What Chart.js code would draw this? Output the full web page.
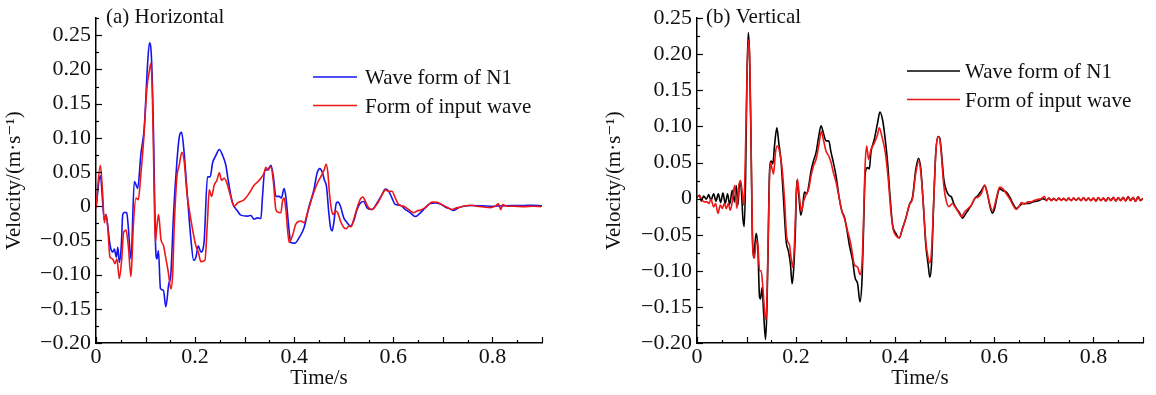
<!DOCTYPE html>
<html>
<head>
<meta charset="utf-8">
<script src="https://cdn.jsdelivr.net/npm/chart.js@4.4.1/dist/chart.umd.min.js"></script>
<style>
  html, body { margin: 0; padding: 0; background: #fff; }
  #wrap { position: relative; width: 1156px; height: 395px; }
  .pane { position: absolute; top: 0; width: 578px; height: 395px; }
</style>
</head>
<body>
<div id="wrap">
  <div class="pane" style="left:0"><canvas id="c1" width="578" height="395"></canvas></div>
  <div class="pane" style="left:578px"><canvas id="c2" width="578" height="395"></canvas></div>
</div>
<script>
// ---------------- DATA ----------------
// (a) Horizontal – wave form of N1 (time s, velocity m/s)
const hN1T = [0,0.0087,0.0168,0.020,0.024,0.027,0.030,0.034,0.037,0.041,0.044,0.047,0.051,0.054,0.058,0.062,0.065,0.0706,0.0773,0.081,0.084,0.0907,0.0974,0.104,0.108,0.112,0.116,0.120,0.123,0.126,0.130,0.136,0.141,0.1465,0.151,0.1566,0.163,0.168,0.1727,0.178,0.1835,0.1915,0.197,0.2016,0.2063,0.2117,0.218,0.225,0.2305,0.235,0.242,0.2487,0.2554,0.262,0.2668,0.2755,0.2856,0.292,0.306,0.3125,0.319,0.326,0.3327,0.336,0.3407,0.346,0.353,0.358,0.363,0.3696,0.374,0.3797,0.383,0.390,0.393,0.401,0.410,0.420,0.430,0.4396,0.4463,0.4517,0.4564,0.461,0.4651,0.4698,0.4732,0.4765,0.4799,0.4852,0.4886,0.4933,0.5,0.5067,0.5134,0.5201,0.5268,0.5336,0.5403,0.547,0.557,0.5671,0.5772,0.5839,0.5906,0.5973,0.604,0.6141,0.6242,0.6342,0.6443,0.6544,0.6644,0.6745,0.6846,0.6946,0.7047,0.7148,0.7215,0.7315,0.7416,0.76,0.78,0.80,0.82,0.84,0.86,0.88,0.90];
const hN1V = [-0.003,0.045,-0.02,-0.012,-0.03,-0.05,-0.0625,-0.067,-0.0625,-0.0745,-0.06,-0.082,-0.058,-0.012,-0.0087,-0.0096,-0.029,-0.077,0.036,0.031,0.026,0.077,0.115,0.207,0.239,0.216,0.11,-0.053,-0.077,-0.065,-0.12,-0.123,-0.147,-0.115,-0.099,-0.0096,0.0625,0.101,0.108,0.077,0.024,-0.048,-0.079,-0.0745,-0.058,-0.067,-0.053,0.043,0.043,0.0625,0.0745,0.083,0.0745,0.06,0.038,0.005,-0.007,-0.013,-0.0144,-0.0135,-0.019,-0.017,-0.018,0.0144,0.053,0.053,0.06,0.043,0.0144,0.0144,0.012,0.026,0.0144,-0.038,-0.053,-0.054,-0.046,-0.031,0,0.024,0.049,0.055,0.05,0.038,0.029,-0.0096,-0.031,-0.036,-0.024,0.005,0.006,0,-0.017,-0.024,-0.029,-0.0216,-0.0048,0.0048,0.007,-0.0024,-0.0048,0.0048,0.017,0.025,0.022,0.012,0.0024,0.0014,-0.0048,-0.0096,-0.015,-0.0096,-0.0024,0.004,0.0048,0.0034,-0.001,-0.004,-0.006,-0.0024,0,0.001,0.0005,0,0.0005,0.001,0.001,0.0015,0.0005];

// (a) Horizontal – form of input wave
const hInT = [0,0.0087,0.0134,0.0168,0.020,0.0235,0.0282,0.0336,0.0383,0.0423,0.047,0.0517,0.0558,0.0605,0.0652,0.0706,0.0753,0.0806,0.0853,0.0907,0.0961,0.1028,0.1075,0.1109,0.1136,0.1163,0.1196,0.123,0.1263,0.131,0.1364,0.1411,0.1458,0.1512,0.1546,0.1579,0.1633,0.168,0.1734,0.1781,0.1835,0.1882,0.1949,0.2016,0.2063,0.2117,0.2198,0.2251,0.2285,0.2332,0.2386,0.244,0.2487,0.2534,0.2587,0.2641,0.2708,0.2789,0.2856,0.2991,0.3091,0.3192,0.3293,0.3394,0.3427,0.3474,0.3528,0.3582,0.3629,0.3676,0.373,0.3763,0.3797,0.3831,0.3898,0.3965,0.4032,0.4133,0.42,0.4267,0.4368,0.4469,0.4536,0.4603,0.4644,0.4678,0.4711,0.4752,0.4785,0.4832,0.4879,0.4933,0.5,0.5054,0.5101,0.5148,0.5201,0.5268,0.5336,0.5389,0.5436,0.5503,0.557,0.5638,0.5705,0.5772,0.5839,0.5906,0.5973,0.604,0.6107,0.6208,0.6309,0.6409,0.6477,0.6577,0.6678,0.6779,0.6879,0.698,0.7081,0.7181,0.7282,0.7416,0.755,0.7685,0.7819,0.7953,0.8054,0.8121,0.8168,0.8208,0.8289,0.8423,0.8624,0.8826,0.898];
const hInV = [-0.003,0.06,0.019,-0.024,-0.012,-0.029,-0.0745,-0.077,-0.084,-0.077,-0.106,-0.079,-0.038,-0.035,-0.058,-0.103,-0.029,0.012,0.0096,0.048,0.096,0.173,0.197,0.209,0.168,0.067,-0.053,-0.029,-0.012,-0.048,-0.058,-0.077,-0.096,-0.121,-0.101,-0.029,0.043,0.06,0.079,0.065,0.019,-0.0048,-0.034,-0.058,-0.067,-0.081,-0.079,-0.019,0.024,0.0144,0.031,0.038,0.049,0.038,0.041,0.034,0.017,0,0.0048,0.0096,0.019,0.031,0.038,0.049,0.057,0.053,0.058,0.034,-0.0048,-0.0087,-0.0096,0.007,0.012,-0.0048,-0.053,-0.043,-0.026,-0.0216,-0.024,-0.0096,0.0144,0.034,0.043,0.053,0.0615,0.05,0.019,-0.0048,-0.012,-0.007,-0.0096,-0.0216,-0.031,-0.033,-0.029,-0.03,-0.019,-0.0024,0.0106,0.0135,0.007,-0.0024,-0.0048,0,0.007,0.017,0.024,0.022,0.022,0.012,0.0024,0,-0.0048,-0.0096,-0.007,-0.0048,0,0.006,0.0058,0.0024,-0.0014,-0.0048,-0.0024,0,0.0014,0,-0.001,-0.002,0,0.0034,-0.0048,0.0024,0,0,-0.0005,0,-0.0005];

// (b) Vertical – wave form of N1
const vN1T = [0,0.0054,0.0087,0.0134,0.0188,0.0235,0.0282,0.0336,0.0383,0.043,0.0477,0.0523,0.057,0.0617,0.0658,0.0711,0.0758,0.0792,0.0826,0.0859,0.0893,0.0926,0.0953,0.098,0.1007,0.1034,0.106,0.1087,0.1114,0.1141,0.1168,0.1195,0.1228,0.1262,0.1282,0.1315,0.1342,0.1383,0.141,0.1436,0.1463,0.1497,0.153,0.1564,0.1611,0.1651,0.1698,0.1745,0.1799,0.1846,0.1886,0.1919,0.1953,0.1987,0.2013,0.2054,0.2094,0.2134,0.2168,0.2215,0.2255,0.2302,0.2349,0.2403,0.2456,0.2503,0.255,0.2604,0.2658,0.2705,0.2752,0.2805,0.2872,0.2926,0.2973,0.302,0.3074,0.3141,0.3188,0.3242,0.3289,0.3329,0.3356,0.3396,0.3443,0.3477,0.351,0.3577,0.3644,0.3691,0.3745,0.3792,0.3846,0.3899,0.3946,0.4013,0.4081,0.4148,0.4215,0.4282,0.4349,0.4416,0.447,0.4517,0.4564,0.4617,0.4664,0.4698,0.4732,0.4779,0.4819,0.4866,0.4899,0.4933,0.498,0.5034,0.5087,0.5134,0.5181,0.5235,0.5302,0.5356,0.5403,0.547,0.5537,0.5604,0.5671,0.5738,0.5805,0.5852,0.5906,0.596,0.6007,0.6054,0.6107,0.6174,0.6242,0.6309,0.6376,0.6443,0.6497,0.6577,0.6678,0.6779,0.6846,0.6913,0.698];
const vN1V = [0.002,0.0045,-0.0036,0.0036,-0.0009,0.0055,-0.0023,0.0068,-0.0036,0.0068,-0.0055,0.0077,-0.0068,0.0068,-0.0082,0.0114,-0.0045,0.018,-0.009,0.023,0.0136,-0.027,-0.0386,0.027,0.164,0.23,0.2,0.095,-0.041,-0.082,-0.064,-0.048,-0.068,-0.136,-0.139,-0.123,-0.155,-0.195,-0.155,-0.064,0.036,0.052,0.048,0.073,0.098,0.077,0.05,0,-0.059,-0.073,-0.091,-0.118,-0.095,-0.041,0.025,0.0045,-0.023,-0.009,0.009,0.0068,0.018,0.0386,0.052,0.064,0.086,0.101,0.091,0.08,0.08,0.064,0.05,0.032,0,-0.018,-0.025,-0.041,-0.064,-0.086,-0.109,-0.118,-0.143,-0.114,-0.0545,0.036,0.043,0.041,0.064,0.082,0.105,0.12,0.109,0.086,0.05,0,-0.036,-0.048,-0.0545,-0.041,-0.027,-0.009,0.002,0.041,0.056,0.041,-0.0045,-0.064,-0.091,-0.109,-0.091,0,0.064,0.086,0.084,0.064,0.027,0.011,0.0045,0.0023,-0.0068,-0.0136,-0.02,-0.027,-0.023,-0.016,-0.009,0,0.0045,0.011,0.018,0.009,-0.009,-0.02,-0.0136,0.0023,0.0136,0.011,0.009,0.0023,-0.0068,-0.0136,-0.011,-0.0068,-0.0068,-0.0045,-0.0036,-0.0023,0];
const vN1TailV = [-0.002,0.0005,-0.002,0,-0.0025,0.0005,-0.002,0,-0.0025,0.0005,-0.0025,0.0005,-0.002,0.0005,-0.0025,0.001,-0.0025,0.0005,-0.0025,0.0005,-0.003,0.001,-0.0025,0.0005,-0.003,0.001,-0.0025,0.0015,-0.003,0.001,-0.0025,0.0015,-0.003,0.0025,-0.0025,0.0015,-0.0035,0.0025,-0.0025,0.0005];

// (b) Vertical – form of input wave
const vInT = [0,0.0054,0.0107,0.0154,0.0201,0.0242,0.0282,0.0336,0.0376,0.0423,0.047,0.051,0.055,0.0591,0.0631,0.0671,0.0711,0.0758,0.0805,0.0846,0.0879,0.0913,0.0946,0.098,0.1013,0.104,0.1067,0.1094,0.1128,0.1161,0.1195,0.1228,0.1262,0.1295,0.1329,0.1369,0.1396,0.1423,0.145,0.1477,0.1517,0.1544,0.1584,0.1617,0.1664,0.1718,0.1765,0.1812,0.1866,0.1899,0.1933,0.1966,0.2,0.2027,0.2067,0.2107,0.2148,0.2201,0.2255,0.2302,0.2349,0.2403,0.2456,0.251,0.255,0.2604,0.2658,0.2705,0.2752,0.2805,0.2872,0.2926,0.2973,0.304,0.3107,0.3174,0.3242,0.3289,0.3329,0.3356,0.3389,0.3423,0.3463,0.351,0.3577,0.3644,0.3678,0.3732,0.3799,0.3859,0.3913,0.396,0.4013,0.4081,0.4148,0.4215,0.4282,0.4349,0.4416,0.4477,0.4517,0.4564,0.4617,0.4664,0.4698,0.4732,0.4779,0.4819,0.4866,0.4899,0.4933,0.498,0.5034,0.5087,0.5154,0.5201,0.5268,0.5336,0.5403,0.547,0.5537,0.5604,0.5671,0.5738,0.5805,0.5852,0.5906,0.596,0.6007,0.6054,0.6107,0.6174,0.6242,0.6309,0.6376,0.6443,0.6497,0.6544,0.6611,0.6678,0.6745,0.6812,0.6879,0.6946,0.7013];
const vInV = [0.0036,0.0036,-0.0023,-0.0045,-0.0045,-0.0068,-0.0009,-0.0114,-0.0068,-0.0205,-0.009,-0.0136,-0.0068,-0.0136,-0.0068,-0.016,-0.0045,0.018,-0.0136,0.018,0.025,0.009,-0.009,0.073,0.182,0.22,0.186,0.064,-0.073,-0.082,-0.059,-0.064,-0.1,-0.1,-0.123,-0.159,-0.168,-0.1,-0.009,0.05,0.041,0.034,0.064,0.073,0.066,0.041,0,-0.0545,-0.064,-0.082,-0.095,-0.064,0,0.027,0.0023,-0.018,-0.0045,0.0055,0.0136,0.032,0.045,0.0545,0.073,0.093,0.082,0.066,0.059,0.05,0.036,0.023,0,-0.018,-0.027,-0.045,-0.064,-0.091,-0.095,-0.105,-0.091,-0.041,0.041,0.073,0.0545,0.068,0.077,0.089,0.098,0.086,0.064,0.027,-0.018,-0.043,-0.051,-0.0545,-0.041,-0.027,-0.009,0,0.036,0.052,0.036,-0.0045,-0.059,-0.082,-0.089,-0.073,0,0.064,0.086,0.082,0.059,0.018,-0.0045,-0.011,-0.0068,-0.011,-0.018,-0.025,-0.018,-0.0136,-0.009,0,0.0023,0.0068,0.019,0.009,-0.0068,-0.017,-0.009,0.0045,0.016,0.0136,0.0068,0,-0.009,-0.015,-0.011,-0.0055,-0.0077,-0.0045,-0.0045,-0.0023,-0.001,0,0.003];
const vInTailV = [-0.003,0.001,-0.003,0.0005,-0.003,0.001,-0.0025,0.0005,-0.003,0.001,-0.003,0.001,-0.0025,0.001,-0.003,0.0015,-0.003,0.001,-0.003,0.001,-0.0035,0.0015,-0.003,0.001,-0.0035,0.0015,-0.003,0.002,-0.0035,0.0015,-0.003,0.002,-0.0035,0.003,-0.003,0.002,-0.004,0.003,-0.003,0.001];

// shared tail sample times for panel (b)
const vTailT = [0.705,0.710,0.715,0.720,0.725,0.730,0.735,0.740,0.745,0.750,0.755,0.760,0.765,0.770,0.775,0.780,0.785,0.790,0.795,0.800,0.805,0.810,0.815,0.820,0.825,0.830,0.835,0.840,0.845,0.850,0.855,0.860,0.865,0.870,0.875,0.880,0.885,0.890,0.895,0.900];

const seriesLabels = ['Wave form of N1', 'Form of input wave'];
const panelTitles = ['(a) Horizontal', '(b) Vertical'];
const xAxisTitle = 'Time/s';
const yAxisTitle = 'Velocity/(m\u00B7s\u207B\u00B9)';

// ---------------- HELPERS ----------------
function pts(T, V) {
  const n = Math.min(T.length, V.length);
  const out = [];
  for (let i = 0; i < n; i++) out.push({ x: T[i], y: V[i] });
  return out;
}
const FONT_FAMILY = '"Liberation Serif", "Times New Roman", "DejaVu Serif", serif';
const FONT_SIZE = 21;
const TICK_SIZE = 22;
const TXT = '#111';

function fmtY(v) {
  const r = Math.round(v * 1000) / 1000;
  if (Math.abs(r) < 1e-9) return '0';
  return (r < 0 ? '\u2212' : '') + Math.abs(r).toFixed(2);
}
function fmtX(v) {
  const r = Math.round(v * 1000) / 1000;
  if (Math.abs(r) < 1e-9) return '0';
  return r.toFixed(1);
}

const tickPlugin = {
  id: 'inTicks',
  afterDraw(chart, args, o) {
    const ctx = chart.ctx, xs = chart.scales.x, ys = chart.scales.y;
    ctx.save();
    ctx.strokeStyle = '#000';
    ctx.lineWidth = 1.2;
    const isMul = (v, s) => Math.abs(v / s - Math.round(v / s)) < 1e-6;
    for (let i = 0; ; i++) {
      const v = xs.min + i * o.xMinor;
      if (v > xs.max + 1e-9) break;
      const px = Math.round(xs.getPixelForValue(v)) + 0.5;
      const len = isMul(v, o.xMajor) ? 6 : 3;
      ctx.beginPath(); ctx.moveTo(px, ys.bottom); ctx.lineTo(px, ys.bottom - len); ctx.stroke();
    }
    for (let i = 0; ; i++) {
      const v = ys.min + i * o.yMinor;
      if (v > ys.max + 1e-9) break;
      const py = Math.round(ys.getPixelForValue(v)) + 0.5;
      const len = isMul(v, o.yMajor) ? 6 : 3;
      ctx.beginPath(); ctx.moveTo(xs.left, py); ctx.lineTo(xs.left + len, py); ctx.stroke();
    }
    ctx.restore();
  }
};

const annotPlugin = {
  id: 'annot',
  afterDraw(chart, args, o) {
    const ctx = chart.ctx;
    ctx.save();
    ctx.font = FONT_SIZE + 'px ' + FONT_FAMILY;
    ctx.fillStyle = TXT;
    ctx.textAlign = 'left';
    ctx.textBaseline = 'alphabetic';
    ctx.fillText(o.panel, o.panelX, o.panelY);
    chart.data.datasets.forEach((ds, i) => {
      const ly = o.legLineY + i * o.legGap;
      ctx.strokeStyle = ds.borderColor;
      ctx.lineWidth = 1.6;
      ctx.beginPath(); ctx.moveTo(o.legX1, ly); ctx.lineTo(o.legX2, ly); ctx.stroke();
      ctx.fillText(ds.label, o.legTextX, o.legBaseY + i * o.legGap);
    });
    ctx.restore();
  }
};

function makeChart(canvasId, cfg) {
  return new Chart(document.getElementById(canvasId), {
    type: 'line',
    data: {
      datasets: [
        { label: seriesLabels[0], data: cfg.d1, borderColor: cfg.c1, borderWidth: 1.6, pointRadius: 0, cubicInterpolationMode: 'monotone', order: 2 },
        { label: seriesLabels[1], data: cfg.d2, borderColor: cfg.c2, borderWidth: 1.6, pointRadius: 0, cubicInterpolationMode: 'monotone', order: 1 }
      ]
    },
    options: {
      responsive: false,
      animation: false,
      events: [],
      layout: { padding: cfg.pad },
      plugins: {
        legend: { display: false },
        tooltip: { enabled: false },
        inTicks: { xMinor: 0.05, xMajor: 0.1, yMinor: 0.025, yMajor: 0.05 },
        annot: cfg.annot
      },
      scales: {
        x: {
          type: 'linear', min: 0, max: 0.9,
          grid: { display: false, drawTicks: false },
          border: { display: true, color: '#000', width: 1.5 },
          ticks: { stepSize: 0.2, includeBounds: false, autoSkip: false, maxRotation: 0, padding: 1, color: TXT,
                   font: { family: FONT_FAMILY, size: TICK_SIZE }, callback: v => fmtX(v) },
          title: { display: true, text: xAxisTitle, color: TXT, font: { family: FONT_FAMILY, size: FONT_SIZE }, padding: { top: 0, bottom: 4 } },
          afterFit: s => { s.height = 52; }
        },
        y: {
          type: 'linear', min: -0.2, max: cfg.ymax,
          grid: { display: false, drawTicks: false },
          border: { display: true, color: '#000', width: 1.5 },
          ticks: { stepSize: 0.05, includeBounds: false, autoSkip: false, padding: 5, color: TXT,
                   font: { family: FONT_FAMILY, size: TICK_SIZE }, callback: v => fmtY(v) },
          title: { display: true, text: yAxisTitle, color: TXT, font: { family: FONT_FAMILY, size: FONT_SIZE }, padding: { top: 2, bottom: 0 } },
          afterFit: s => { s.width = cfg.yw; }
        }
      }
    },
    plugins: [tickPlugin, annotPlugin]
  });
}

makeChart('c1', {
  d1: pts(hN1T, hN1V), d2: pts(hInT, hInV),
  c1: 'rgb(20,20,240)', c2: 'rgb(238,22,22)',
  pad: { left: 0, top: 13, right: 36, bottom: 0 }, yw: 96, ymax: 0.275,
  annot: { panel: panelTitles[0], panelX: 106, panelY: 23,
           legX1: 313, legX2: 357, legLineY: 77, legTextX: 365, legBaseY: 84, legGap: 28.5 }
});

makeChart('c2', {
  d1: pts(vN1T.concat(vTailT), vN1V.concat(vN1TailV)), d2: pts(vInT.concat(vTailT), vInV.concat(vInTailV)),
  c1: '#000', c2: 'rgb(238,22,22)',
  pad: { left: 22, top: 13, right: 13, bottom: 0 }, yw: 97, ymax: 0.25,
  annot: { panel: panelTitles[1], panelX: 128, panelY: 23,
           legX1: 329, legX2: 382, legLineY: 71, legTextX: 387, legBaseY: 78, legGap: 28.5 }
});
</script>
</body>
</html>
